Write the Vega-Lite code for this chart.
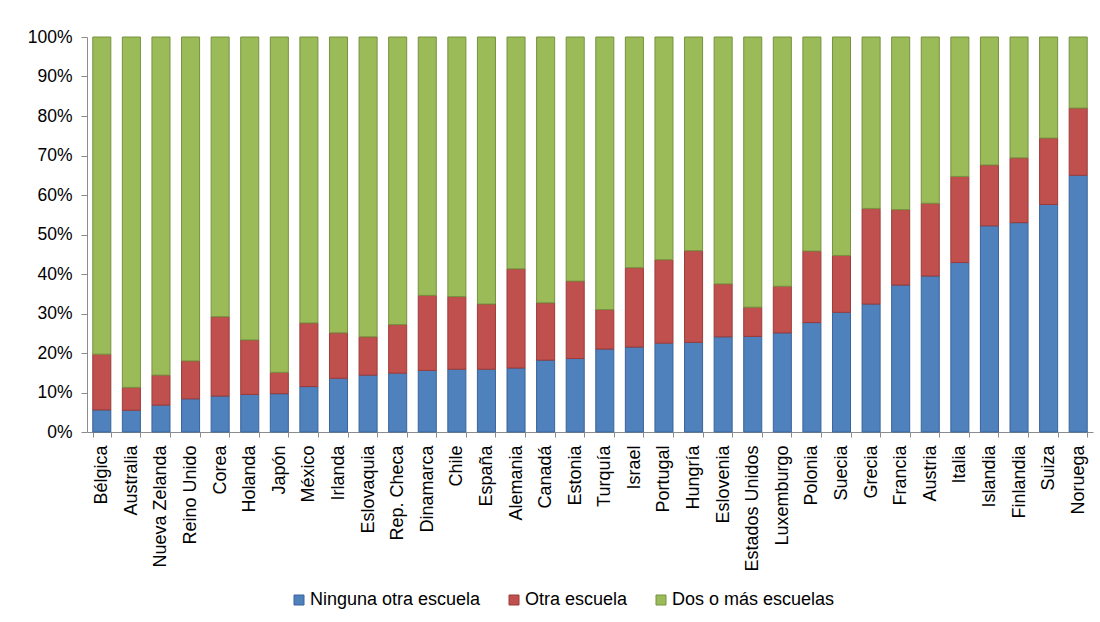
{
  "$schema": "https://vega.github.io/schema/vega-lite/v6.json",
  "autosize": {"type": "none"},
  "width": 1006,
  "height": 395,
  "padding": {"top": 37, "left": 87, "right": 7, "bottom": 190},
  "background": "#ffffff",
  "data": {
    "values": [
      {"pais": "Bélgica", "Ninguna otra escuela": 5.6, "Otra escuela": 14.1, "Dos o más escuelas": 80.3},
      {"pais": "Australia", "Ninguna otra escuela": 5.5, "Otra escuela": 5.8, "Dos o más escuelas": 88.7},
      {"pais": "Nueva Zelanda", "Ninguna otra escuela": 6.8, "Otra escuela": 7.6, "Dos o más escuelas": 85.6},
      {"pais": "Reino Unido", "Ninguna otra escuela": 8.4, "Otra escuela": 9.6, "Dos o más escuelas": 82.0},
      {"pais": "Corea", "Ninguna otra escuela": 9.1, "Otra escuela": 20.1, "Dos o más escuelas": 70.8},
      {"pais": "Holanda", "Ninguna otra escuela": 9.5, "Otra escuela": 13.8, "Dos o más escuelas": 76.7},
      {"pais": "Japón", "Ninguna otra escuela": 9.7, "Otra escuela": 5.4, "Dos o más escuelas": 84.9},
      {"pais": "México", "Ninguna otra escuela": 11.5, "Otra escuela": 16.1, "Dos o más escuelas": 72.4},
      {"pais": "Irlanda", "Ninguna otra escuela": 13.6, "Otra escuela": 11.5, "Dos o más escuelas": 74.9},
      {"pais": "Eslovaquia", "Ninguna otra escuela": 14.4, "Otra escuela": 9.7, "Dos o más escuelas": 75.9},
      {"pais": "Rep. Checa", "Ninguna otra escuela": 14.9, "Otra escuela": 12.3, "Dos o más escuelas": 72.8},
      {"pais": "Dinamarca", "Ninguna otra escuela": 15.6, "Otra escuela": 19.0, "Dos o más escuelas": 65.4},
      {"pais": "Chile", "Ninguna otra escuela": 15.9, "Otra escuela": 18.4, "Dos o más escuelas": 65.7},
      {"pais": "España", "Ninguna otra escuela": 15.9, "Otra escuela": 16.5, "Dos o más escuelas": 67.6},
      {"pais": "Alemania", "Ninguna otra escuela": 16.2, "Otra escuela": 25.1, "Dos o más escuelas": 58.7},
      {"pais": "Canadá", "Ninguna otra escuela": 18.2, "Otra escuela": 14.5, "Dos o más escuelas": 67.3},
      {"pais": "Estonia", "Ninguna otra escuela": 18.6, "Otra escuela": 19.6, "Dos o más escuelas": 61.8},
      {"pais": "Turquía", "Ninguna otra escuela": 21.0, "Otra escuela": 10.0, "Dos o más escuelas": 69.0},
      {"pais": "Israel", "Ninguna otra escuela": 21.5, "Otra escuela": 20.1, "Dos o más escuelas": 58.4},
      {"pais": "Portugal", "Ninguna otra escuela": 22.5, "Otra escuela": 21.1, "Dos o más escuelas": 56.4},
      {"pais": "Hungría", "Ninguna otra escuela": 22.7, "Otra escuela": 23.2, "Dos o más escuelas": 54.1},
      {"pais": "Eslovenia", "Ninguna otra escuela": 24.1, "Otra escuela": 13.4, "Dos o más escuelas": 62.5},
      {"pais": "Estados Unidos", "Ninguna otra escuela": 24.2, "Otra escuela": 7.4, "Dos o más escuelas": 68.4},
      {"pais": "Luxemburgo", "Ninguna otra escuela": 25.1, "Otra escuela": 11.8, "Dos o más escuelas": 63.1},
      {"pais": "Polonia", "Ninguna otra escuela": 27.7, "Otra escuela": 18.1, "Dos o más escuelas": 54.2},
      {"pais": "Suecia", "Ninguna otra escuela": 30.3, "Otra escuela": 14.4, "Dos o más escuelas": 55.3},
      {"pais": "Grecia", "Ninguna otra escuela": 32.4, "Otra escuela": 24.2, "Dos o más escuelas": 43.4},
      {"pais": "Francia", "Ninguna otra escuela": 37.2, "Otra escuela": 19.1, "Dos o más escuelas": 43.7},
      {"pais": "Austria", "Ninguna otra escuela": 39.5, "Otra escuela": 18.4, "Dos o más escuelas": 42.1},
      {"pais": "Italia", "Ninguna otra escuela": 42.9, "Otra escuela": 21.8, "Dos o más escuelas": 35.3},
      {"pais": "Islandia", "Ninguna otra escuela": 52.2, "Otra escuela": 15.4, "Dos o más escuelas": 32.4},
      {"pais": "Finlandia", "Ninguna otra escuela": 53.0, "Otra escuela": 16.4, "Dos o más escuelas": 30.6},
      {"pais": "Suiza", "Ninguna otra escuela": 57.6, "Otra escuela": 16.8, "Dos o más escuelas": 25.6},
      {"pais": "Noruega", "Ninguna otra escuela": 65.0, "Otra escuela": 17.0, "Dos o más escuelas": 18.0}
    ]
  },
  "transform": [
    {"fold": ["Ninguna otra escuela", "Otra escuela", "Dos o más escuelas"], "as": ["tipo", "pct"]},
    {"lookup": "tipo", "from": {"data": {"values": [
      {"tipo": "Ninguna otra escuela", "orden": 1},
      {"tipo": "Otra escuela", "orden": 2},
      {"tipo": "Dos o más escuelas", "orden": 3}
    ]}, "key": "tipo", "fields": ["orden"]}}
  ],
  "mark": {"type": "bar", "strokeWidth": 1},
  "encoding": {
    "x": {
      "field": "pais",
      "type": "nominal",
      "sort": null,
      "scale": {"paddingInner": 0.39, "paddingOuter": 0.195},
      "axis": {
        "title": null,
        "labelAngle": -90,
        "labelAlign": "right",
        "labelBaseline": "middle",
        "labelPadding": 8,
        "labelFontSize": 18,
        "tickBand": "extent",
        "tickSize": 5
      }
    },
    "y": {
      "field": "pct",
      "type": "quantitative",
      "stack": "normalize",
      "scale": {"domain": [0, 1], "nice": false},
      "axis": {
        "title": null,
        "values": [0, 0.1, 0.2, 0.3, 0.4, 0.5, 0.6, 0.7, 0.8, 0.9, 1],
        "format": ".0%",
        "grid": false,
        "tickSize": 6,
        "labelPadding": 9,
        "labelFontSize": 17.5
      }
    },
    "order": {"field": "orden", "type": "quantitative", "sort": "ascending"},
    "color": {
      "field": "tipo",
      "type": "nominal",
      "scale": {
        "domain": ["Ninguna otra escuela", "Otra escuela", "Dos o más escuelas"],
        "range": ["#4F81BD", "#C0504D", "#9BBB59"]
      },
      "legend": {
        "title": null,
        "orient": "none",
        "direction": "horizontal",
        "legendX": 203,
        "legendY": 554,
        "symbolType": "square",
        "symbolSize": 100,
        "symbolStrokeWidth": 1,
        "labelFontSize": 18,
        "labelLimit": 0,
        "labelOffset": 2,
        "columnPadding": 24
      }
    },
    "stroke": {
      "field": "tipo",
      "type": "nominal",
      "scale": {
        "domain": ["Ninguna otra escuela", "Otra escuela", "Dos o más escuelas"],
        "range": ["#3A639A", "#9A3B39", "#76923F"]
      },
      "legend": null
    }
  },
  "config": {
    "view": {"stroke": null},
    "font": "Liberation Sans",
    "axis": {
      "domainColor": "#8C8C8C",
      "tickColor": "#8C8C8C",
      "labelColor": "#000000",
      "labelFont": "Liberation Sans",
      "labelFontSize": 17,
      "domainWidth": 1,
      "tickWidth": 1
    },
    "legend": {
      "labelFont": "Liberation Sans",
      "labelColor": "#000000"
    }
  }
}
